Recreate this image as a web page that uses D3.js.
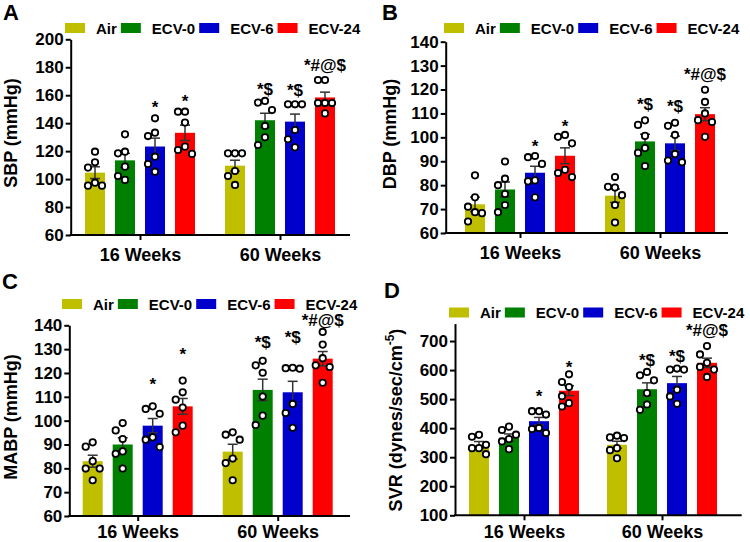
<!DOCTYPE html>
<meta charset="utf-8">
<script src="https://d3js.org/d3.v7.min.js"></script>
<style>
  body { margin: 0; background: #fff; }
  text { font-family: "Liberation Sans", Arial, sans-serif; font-weight: bold; }
</style>
<body>
<script>

var groups = ["16 Weeks", "60 Weeks"];
var series = ["Air", "ECV-0", "ECV-6", "ECV-24"];
var colors = ["#bfbf00", "#008000", "#0000cc", "#ff0000"];
// significance marks, one row per group
var marks = [["", "", "*", "*"], ["", "*$", "*$", "*#@$"]];

// A - SBP
var sbpTicks = [60, 80, 100, 120, 140, 160, 180, 200];
var sbpMean = [[104.6, 113.4, 123.3, 133.1], [109.6, 142.1, 141.1, 158.4]];
var sbpSem = [[4.2, 5, 6, 5.5], [3.9, 5, 5.4, 3.8]];
var sbpPoints = [
  [[119.6, 112, 108.2, 97.4, 95.3, 95.3], [132, 119.6, 118.4, 108.9, 102.2, 99.4],
   [143.5, 133.2, 130.8, 116, 110.8, 105.3], [148.2, 148.2, 140.4, 123.2, 120.8, 118]],
  [[118.4, 118.4, 118.4, 105.8, 102.2, 95.8], [155.9, 154.7, 149.4, 138, 129.9, 124.4],
   [153.5, 153.5, 153.5, 135.1, 128.5, 122.7], [170.9, 170.9, 154.4, 154.4, 154.4, 147]]
];
var sbpMarkAt = [[null, null, 147.3, 151.9], [null, 160, 159.7, 177.5]];

// B - DBP
var dbpTicks = [60, 70, 80, 90, 100, 110, 120, 130, 140];
var dbpMean = [[72, 78.2, 85.2, 92.3], [75.6, 98.3, 97.5, 109.7]];
var dbpSem = [[3, 3.1, 2.7, 3.3], [2.8, 3, 3, 2.7]];
var dbpPoints = [
  [[84.1, 74.9, 71, 68.7, 68.3, 64.8], [89.9, 82.7, 80, 76.3, 71.7, 68.7],
   [92.2, 91.7, 88.9, 82, 81.6, 74.9], [101, 100.2, 97.5, 86.4, 85.1, 83.4]],
  [[83.4, 79.3, 79, 75.8, 71.7, 64.4], [107.1, 105.2, 100.6, 95.5, 93.5, 88],
   [106.1, 104.8, 101, 93, 90.3, 89.6], [119.9, 114.8, 110, 107.2, 106.4, 100.2]]
];
var dbpMarkAt = [[null, null, 93.8, 102.2], [null, 111.4, 110.7, 123.9]];

// C - MABP
var mabpTicks = [60, 70, 80, 90, 100, 110, 120, 130, 140];
var mabpMean = [[83, 90, 97.9, 106], [87, 112.9, 111.9, 126]];
var mabpSem = [[2.5, 2.8, 3, 3.3], [3.1, 4.5, 4.6, 3]];
var mabpPoints = [
  [[90.9, 89.1, 83, 79.9, 79.9, 75], [99, 95.9, 92.3, 87.1, 86.1, 79.9],
   [106, 104.9, 102.9, 93, 92, 88.9], [116.8, 111.9, 108.8, 105.5, 97.9, 95.1]],
  [[95.1, 94.1, 92, 84.1, 82.2, 75], [125.1, 123.2, 120.1, 110.1, 102.1, 98.2],
   [122.2, 122, 121.8, 107, 103.2, 97], [137.2, 131.9, 126.2, 123.2, 122.5, 115.9]]
];
var mabpMarkAt = [[null, null, 112.9, 125.5], [null, 130.3, 132.4, 139.5]];

// D - SVR
var svrTicks = [100, 200, 300, 400, 500, 600, 700];
var svrMean = [[342, 367, 424, 529], [343, 534, 555, 625]];
var svrSem = [[12, 13, 13, 17], [12, 22, 23, 16]];
var svrPoints = [
  [[377, 370.5, 342.8, 331.2, 331.2, 310.4], [405.2, 393.6, 377.5, 362.4, 354.3, 327.7],
   [458.4, 458.4, 446.8, 400.6, 397.1, 383.2], [585.5, 559, 541.6, 510, 486.1, 474.6]],
  [[374, 368.2, 366, 331.2, 324.3, 296.5], [593.6, 582, 564.7, 520.8, 481.5, 463],
   [605.2, 601.7, 601.7, 532.4, 509.2, 483.8], [682.7, 653.8, 624.9, 611, 601.7, 576.3]]
];
var svrMarkAt = [[null, null, 491.7, 589], [null, 614.6, 628.4, 717.9]];

var width = 750, height = 542;

var svg = d3.select("body").append("svg")
    .attr("width", width)
    .attr("height", height);

var panels = [
  {letter: "A", title: "SBP (mmHg)", mean: sbpMean, sem: sbpSem, pts: sbpPoints, markAt: sbpMarkAt,
   ticks: sbpTicks, domain: [60, 200], yRange: [235, 39.3], axisX: 70.7, axisEnd: 350,
   groupRange: [140, 280], labelDy: 25.5, legend: [65, 23], letterPos: [3, 20], titlePos: [16.5, 133]},
  {letter: "B", title: "DBP (mmHg)", mean: dbpMean, sem: dbpSem, pts: dbpPoints, markAt: dbpMarkAt,
   ticks: dbpTicks, domain: [60, 140], yRange: [233, 41.7], axisX: 445.7, axisEnd: 728,
   groupRange: [520, 660], labelDy: 25.5, legend: [444, 23], letterPos: [382, 20], titlePos: [395.5, 134]},
  {letter: "C", title: "MABP (mmHg)", mean: mabpMean, sem: mabpSem, pts: mabpPoints, markAt: mabpMarkAt,
   ticks: mabpTicks, domain: [60, 140], yRange: [516, 325.3], axisX: 69.3, axisEnd: 350,
   groupRange: [137.7, 277.7], labelDy: 22, legend: [62, 299], letterPos: [2, 289], titlePos: [16.5, 417]},
  {letter: "D", title: "SVR (dynes/sec/cm", sup: "-5", mean: svrMean, sem: svrSem, pts: svrPoints, markAt: svrMarkAt,
   ticks: svrTicks, domain: [100, 760], yRange: [515.3, 323.6], axisX: 455, axisEnd: 741.7,
   groupRange: [524, 662], labelDy: 22.5, legend: [449, 307.5], letterPos: [384, 297.5], titlePos: [402, 420]}
];

// spread points sideways when they would overlap (like prism scatter)
function dodge(vals, y) {
  var order = vals.map(function(v, i) { return i; })
                  .sort(function(a, b) { return vals[b] - vals[a]; });
  var placed = [], off = [];
  order.forEach(function(i) {
    var py = y(vals[i]);
    var cands = [0, -7, 7], pick = null, bestD = -1, bestC = 0;
    for (var k = 0; k < cands.length; k++) {
      var d = Infinity;
      placed.forEach(function(q) { if (q.o === cands[k]) d = Math.min(d, Math.abs(q.y - py)); });
      if (d >= 10) { pick = cands[k]; break; }
      if (d > bestD) { bestD = d; bestC = cands[k]; }
    }
    if (pick === null) pick = bestC;
    placed.push({y: py, o: pick});
    off[i] = pick;
  });
  return off;
}

panels.forEach(function(p) {
  var y = d3.scaleLinear().domain(p.domain).range(p.yRange);
  var gx = d3.scalePoint().domain(groups).range(p.groupRange);
  var bx = d3.scaleBand().domain(series).range([-60, 60]).paddingInner(1/3).paddingOuter(1/6);
  var bw = bx.bandwidth();
  var base = p.yRange[0];

  var g = svg.append("g");

  // bars
  groups.forEach(function(grp, gi) {
    series.forEach(function(s, si) {
      var cx = gx(grp) + bx(s) + bw / 2;
      var m = p.mean[gi][si], e = p.sem[gi][si];
      g.append("rect")
        .attr("x", gx(grp) + bx(s))
        .attr("y", y(m))
        .attr("width", bw)
        .attr("height", base - y(m))
        .attr("fill", colors[si]);

      // error bar
      var eb = g.append("g").attr("stroke", "#333").attr("stroke-width", 1.5);
      eb.append("line").attr("x1", cx).attr("x2", cx).attr("y1", y(m - e)).attr("y2", y(m + e));
      [m - e, m + e].forEach(function(v) {
        eb.append("line").attr("x1", cx - 5).attr("x2", cx + 5).attr("y1", y(v)).attr("y2", y(v));
      });

      // individual points
      var vals = p.pts[gi][si];
      var off = dodge(vals, y);
      g.selectAll(null).data(vals).enter().append("circle")
        .attr("cx", function(d, i) { return cx + off[i]; })
        .attr("cy", function(d) { return y(d); })
        .attr("r", 3.2)
        .attr("fill", "#fff")
        .attr("stroke", "#000")
        .attr("stroke-width", 1.8);

      if (marks[gi][si]) {
        g.append("text")
          .attr("x", cx)
          .attr("y", y(p.markAt[gi][si]))
          .attr("text-anchor", "middle")
          .attr("font-size", 17)
          .text(marks[gi][si]);
      }
    });
  });

  // y axis
  var ya = g.append("g")
      .attr("transform", "translate(" + p.axisX + ",0)")
      .call(d3.axisLeft(y).tickValues(p.ticks).tickSize(5).tickPadding(2).tickSizeOuter(0));
  ya.attr("font-size", 17);
  ya.selectAll("path, line").attr("stroke-width", 2);

  // x axis
  g.append("line")
    .attr("x1", p.axisX - 1).attr("x2", p.axisEnd)
    .attr("y1", base).attr("y2", base)
    .attr("stroke", "#000").attr("stroke-width", 2);
  var xa = g.append("g")
      .attr("transform", "translate(0," + base + ")")
      .call(d3.axisBottom(gx).tickSize(5).tickPadding(10).tickSizeOuter(0));
  xa.select(".domain").remove();
  xa.attr("font-size", 18);
  xa.selectAll("line").attr("stroke-width", 2);
  xa.selectAll("text").attr("dy", null).attr("y", p.labelDy);

  // y title
  var t = g.append("text")
      .attr("transform", "translate(" + p.titlePos[0] + "," + p.titlePos[1] + ") rotate(-90)")
      .attr("text-anchor", "middle")
      .attr("font-size", 18);
  if (p.sup) {
    t.append("tspan").text(p.title);
    t.append("tspan").attr("dy", -8).attr("font-size", 12).text(p.sup);
    t.append("tspan").attr("dy", 8).text(")");
  } else {
    t.text(p.title);
  }

  // panel letter
  g.append("text")
    .attr("x", p.letterPos[0]).attr("y", p.letterPos[1])
    .attr("font-size", 22)
    .text(p.letter);

  // legend
  var lx = p.legend[0], ly = p.legend[1];
  series.forEach(function(s, si) {
    g.append("rect")
      .attr("x", lx).attr("y", ly)
      .attr("width", 20).attr("height", 10)
      .attr("fill", colors[si]);
    var lt = g.append("text")
      .attr("x", lx + 31).attr("y", ly + 10.5)
      .attr("font-size", 15)
      .text(s);
    lx = lx + 31 + lt.node().getComputedTextLength() + 4;
  });
});

</script>
</body>
</html>
